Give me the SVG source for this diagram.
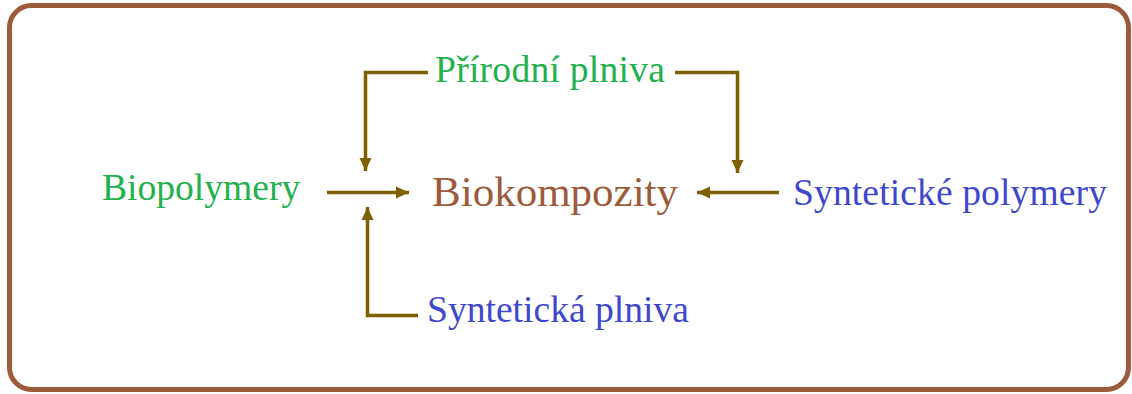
<svg xmlns="http://www.w3.org/2000/svg" width="1132" height="394" viewBox="0 0 1132 394">
<style>
text{font-family:"Liberation Serif","Times New Roman",serif;}
.g{fill:#22B14C;font-size:37.6px;}
.b{fill:#3F48CC;font-size:37.6px;}
.c{fill:#9C5B3A;font-size:43px;}
.e{fill:none;stroke:#7F6000;stroke-width:3.5;marker-end:url(#ah);}
</style>
<defs>
<marker id="ah" markerUnits="userSpaceOnUse" markerWidth="14" markerHeight="14" refX="13" refY="7" orient="auto">
<path d="M0,1 L13,7 L0,13 Z" fill="#7F6000"/>
</marker>
</defs>
<rect x="9.5" y="5.5" width="1119" height="384" rx="22" fill="#fff" stroke="#9C5B3A" stroke-width="5"/>
<g id="connectors">
<path class="e" d="M428,72.5 H365.5 V171"/>
<path class="e" d="M675,72.5 H737.5 V173"/>
<path class="e" d="M327,192.5 H409"/>
<path class="e" d="M779,192.5 H697"/>
<path class="e" d="M418,315.5 H367.5 V207"/>
</g>
<g id="prirodni"><text class="g" x="435" y="82" textLength="230">Přírodní plniva</text></g>
<g id="biopolymery"><text class="g" x="102" y="200">Biopolymery</text></g>
<g id="biokompozity"><text class="c" x="432" y="206">Biokompozity</text></g>
<g id="synteticke"><text class="b" x="793" y="205" textLength="314">Syntetické polymery</text></g>
<g id="synteticka"><text class="b" x="427" y="322">Syntetická plniva</text></g>
</svg>
